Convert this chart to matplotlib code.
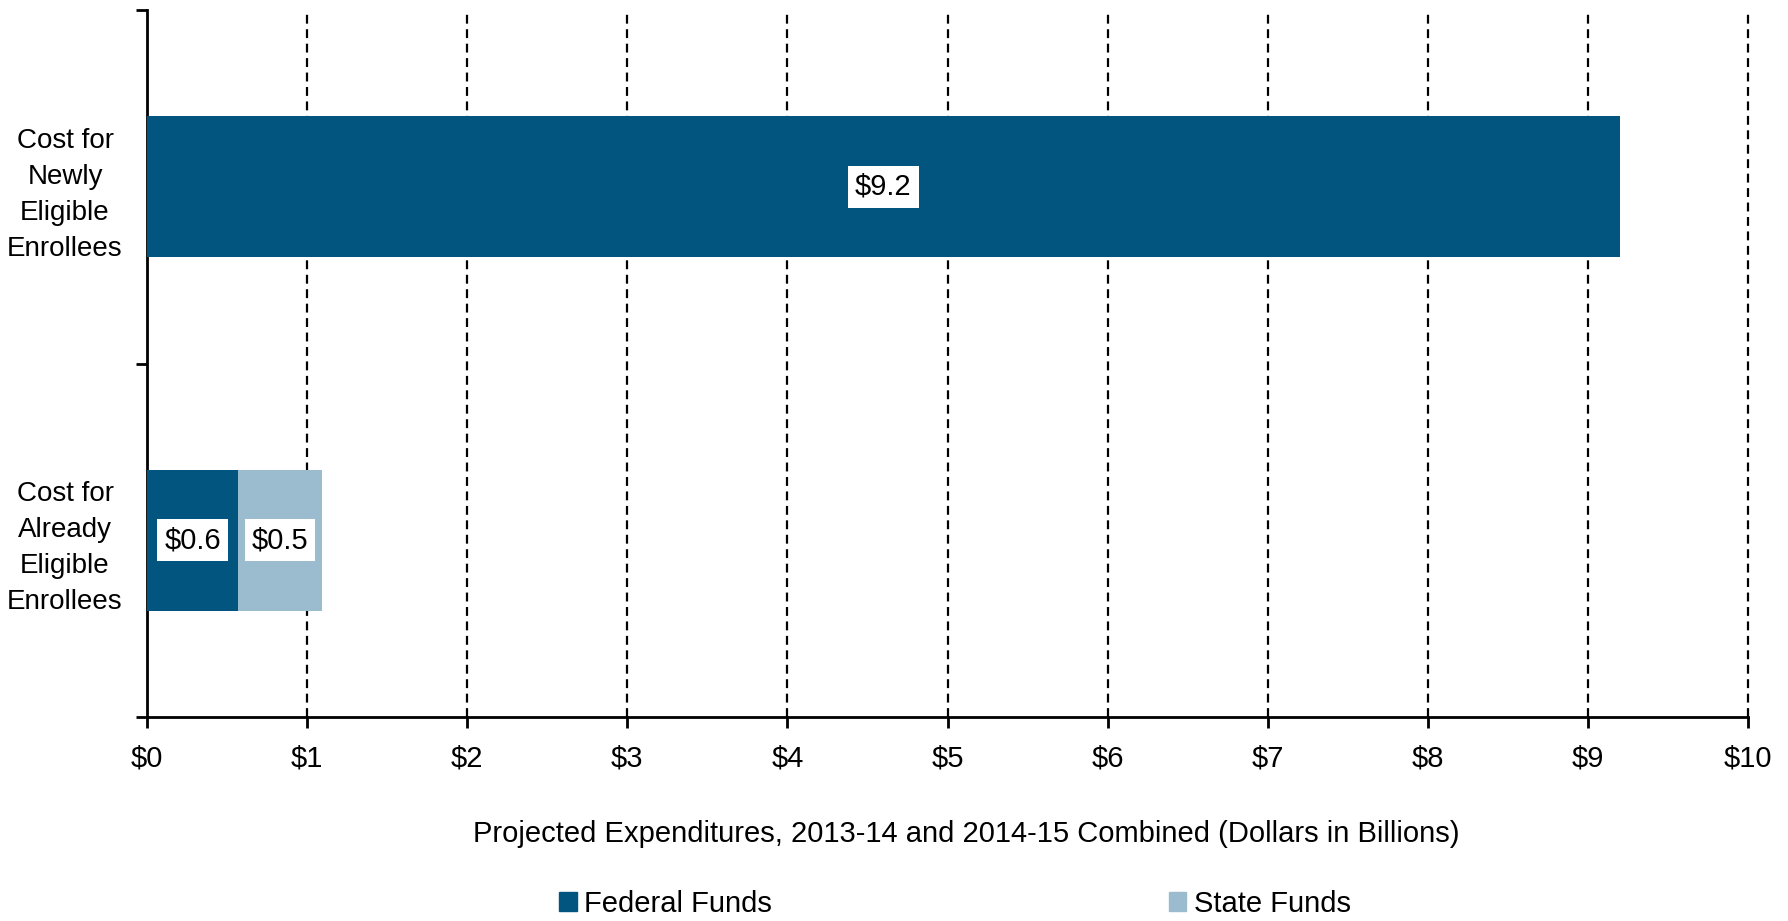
import matplotlib
matplotlib.use('Agg')
import matplotlib.pyplot as plt
from matplotlib import font_manager
from matplotlib.patches import Patch

# narrow sans if present, plain sans otherwise
names = {f.name for f in font_manager.fontManager.ttflist}
font = 'Liberation Sans Narrow' if 'Liberation Sans Narrow' in names else 'Liberation Sans'
plt.rcParams['font.family'] = [font, 'DejaVu Sans']

categories = ['Cost for\nAlready\nEligible\nEnrollees', 'Cost for\nNewly\nEligible\nEnrollees']
federal = [0.57, 9.2]
state = [0.52, 0.0]
xticks = list(range(0, 11))
xlabel = 'Projected Expenditures, 2013-14 and 2014-15 Combined (Dollars in Billions)'

dark = '#02557F'
light = '#9BBBCF'
fs = 21

fig = plt.figure(figsize=(17.88, 9.21), dpi=100)
ax = fig.add_axes([147/1788, 1-717/921, 1601/1788, 707/921])

ypos = list(range(len(categories)))
ax.barh(ypos, federal, height=0.4, color=dark, zorder=3)
ax.barh(ypos, state, left=federal, height=0.4, color=light, zorder=3)

box = dict(facecolor='white', edgecolor='none', pad=5)
for y, f, s in zip(ypos, federal, state):
    if f > 0:
        ax.text(f/2, y, f'${f:.1f}', ha='center', va='center', fontsize=fs, bbox=box, zorder=4)
    if s > 0:
        ax.text(f + s/2, y, f'${s:.1f}', ha='center', va='center', fontsize=fs, bbox=box, zorder=4)

ax.set_xlim(0, 10)
ax.set_ylim(-0.5, 1.5)
ax.set_xticks(xticks)
ax.set_xticklabels([f'${t}' for t in xticks], fontsize=fs)
ax.tick_params(axis='x', length=8, width=2, pad=12, direction='out')

ax.set_yticks(ypos)
ax.set_yticklabels(categories, fontsize=20, linespacing=1.5, ha='center')
ax.tick_params(axis='y', which='major', length=0, pad=59)
ax.set_yticks([-0.5, 0.5, 1.5], minor=True)
ax.tick_params(axis='y', which='minor', length=8, width=2, direction='out')

for x in xticks[1:]:
    ax.axvline(x, color='black', lw=1.6, ls=(0, (4, 2.5)), zorder=1, clip_on=False)

for side in ['top', 'right']:
    ax.spines[side].set_visible(False)
for side in ['left', 'bottom']:
    ax.spines[side].set_linewidth(2)

ax.set_xlabel(xlabel, fontsize=fs, labelpad=0)
ax.xaxis.set_label_coords(0.512, -0.145)

handles = [Patch(color=dark, label='Federal Funds'), Patch(color=light, label='State Funds')]
fig.legend(handles=handles, loc='center', bbox_to_anchor=(955/1788, 1-904/921), ncol=2,
           frameon=False, fontsize=fs, handlelength=0.6, handleheight=0.6,
           handletextpad=0.25, columnspacing=13.6)

fig.savefig('out.png', dpi=100)
